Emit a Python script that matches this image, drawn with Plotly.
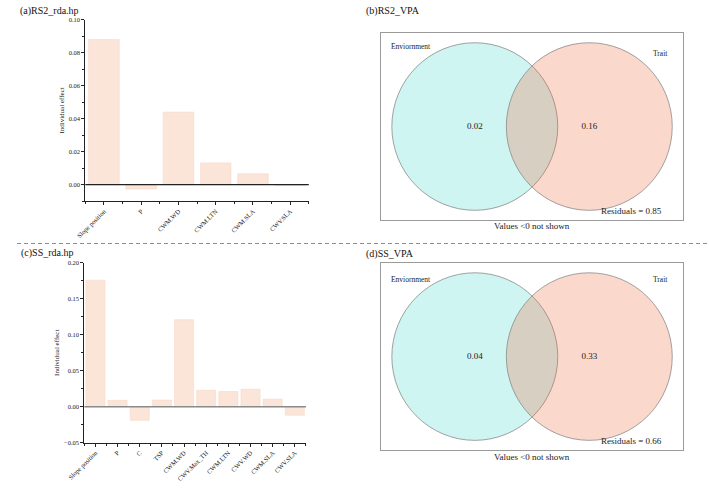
import plotly.graph_objects as go

# ---- data ----
rs2_vars = ["Slope position", "P", "CWM.WD", "CWM.LTN", "CWM.SLA", "CWV.SLA"]
rs2_effect = [0.088, -0.0027, 0.044, 0.0132, 0.0066, -0.0006]

ss_vars = ["Slope position", "P", "C", "TSP", "CWM.WD", "CWV.Max_TH",
           "CWM.LTN", "CWV.WD", "CWM.SLA", "CWV.SLA"]
ss_effect = [0.176, 0.0088, -0.019, 0.0092, 0.121, 0.0229, 0.021, 0.0243, 0.0105, -0.0118]

venn_sets = ["Enviornment", "Trait"]
rs2_vpa = [0.02, 0.16]
rs2_resid = 0.85
ss_vpa = [0.04, 0.33]
ss_resid = 0.66

W, H = 709, 488
FONT = "Liberation Serif"
BAR = "#fbe5d9"

def px_x(p):
    return p / W

def px_y(p):
    return 1 - p / H

fig = go.Figure()

# bar panels
fig.add_trace(go.Bar(x=list(range(len(rs2_vars))), y=rs2_effect, width=0.82,
                     marker=dict(color=BAR, line=dict(color="#f6d8c8", width=0.6)),
                     xaxis="x", yaxis="y", showlegend=False, hoverinfo="skip"))
fig.add_trace(go.Bar(x=list(range(len(ss_vars))), y=ss_effect, width=0.86,
                     marker=dict(color=BAR, line=dict(color="#f6d8c8", width=0.6)),
                     xaxis="x2", yaxis="y2", showlegend=False, hoverinfo="skip"))

# venn value labels as text traces
R = 1.0
D = 0.69
for vals, xa, ya in [(rs2_vpa, "x3", "y3"), (ss_vpa, "x4", "y4")]:
    fig.add_trace(go.Scatter(x=[-D, D], y=[0, 0], mode="text",
                             text=[f"{v:.2f}" for v in vals],
                             textfont=dict(family=FONT, size=9, color="#222"),
                             xaxis=xa, yaxis=ya, showlegend=False, hoverinfo="skip"))

tickfont = dict(family=FONT, size=6.5, color="#222")

def bar_x(domain, anchor, cats):
    return dict(domain=domain, anchor=anchor, range=[-0.5, len(cats) - 0.5],
                tickmode="array", tickvals=list(range(len(cats))), ticktext=cats,
                tickangle=-45, tickfont=tickfont, showline=True, linecolor="#222",
                linewidth=1, ticks="outside", ticklen=3, tickcolor="#222",
                minor=dict(ticks="outside", tick0=-0.5, dtick=1, ticklen=2, tickcolor="#222"),
                showgrid=False, zeroline=False, fixedrange=True)

def bar_y(domain, anchor, rng, dtick, minor):
    return dict(domain=domain, anchor=anchor, range=rng, dtick=dtick, tick0=0,
                tickformat=".2f", tickfont=tickfont, showline=True, linecolor="#222",
                linewidth=1, ticks="outside", ticklen=3, tickcolor="#222",
                minor=dict(ticks="outside", dtick=minor, ticklen=2, tickcolor="#222"),
                showgrid=False, zeroline=False,
                title=dict(text="Individual effect", font=dict(family=FONT, size=7, color="#222"),
                           standoff=3),
                fixedrange=True)

def venn_axis(domain, anchor, half):
    return dict(domain=domain, anchor=anchor, range=[-half, half], showline=True,
                mirror=True, linecolor="#9a9a9a", linewidth=1, showticklabels=False,
                ticks="", showgrid=False, zeroline=False, fixedrange=True)

# venn box geometry
vx0, vx1 = 372.7, 682.7
scale = 85.0  # px per unit radius
hx = (vx1 - vx0) / 2 / scale
hy = 190 / 2 / scale

fig.update_layout(
    width=W, height=H, margin=dict(l=0, r=0, t=0, b=0),
    paper_bgcolor="white", plot_bgcolor="white",
    xaxis=bar_x([px_x(70), px_x(299)], "y", rs2_vars),
    yaxis=bar_y([px_y(200), px_y(16)], "x", [-0.01, 0.10], 0.02, 0.01),
    xaxis2=bar_x([px_x(69), px_x(296)], "y2", ss_vars),
    yaxis2=bar_y([px_y(445), px_y(262.7)], "x2", [-0.05, 0.20], 0.05, 0.025),
    xaxis3=venn_axis([px_x(vx0), px_x(vx1)], "y3", hx),
    yaxis3=venn_axis([px_y(219.3), px_y(29.3)], "x3", hy),
    xaxis4=venn_axis([px_x(vx0), px_x(vx1)], "y4", hx),
    yaxis4=venn_axis([px_y(452.7), px_y(262.7)], "x4", hy),
    bargap=0.1,
)

shapes = []
# zero lines on bar panels
shapes.append(dict(type="line", xref="x domain", yref="y", x0=0, x1=1, y0=0, y1=0,
                   line=dict(color="#222", width=1.3), layer="above"))
shapes.append(dict(type="line", xref="x2 domain", yref="y2", x0=0, x1=1, y0=0, y1=0,
                   line=dict(color="#8a8a8a", width=1.5), layer="above"))
# separator
shapes.append(dict(type="line", xref="paper", yref="paper", x0=0, x1=1,
                   y0=px_y(243), y1=px_y(243),
                   line=dict(color="#8c8c8c", width=1, dash="4px,3px")))
# venn circles
for xa, ya in [("x3", "y3"), ("x4", "y4")]:
    shapes.append(dict(type="circle", xref=xa, yref=ya, x0=-D - R, x1=-D + R, y0=-R, y1=R,
                       fillcolor="#cff5f2", line=dict(color="#8a8a8a", width=0.8),
                       layer="below"))
    shapes.append(dict(type="circle", xref=xa, yref=ya, x0=D - R, x1=D + R, y0=-R, y1=R,
                       fillcolor="rgba(240,100,50,0.25)", line=dict(color="#8a8a8a", width=0.8),
                       layer="below"))
fig.update_layout(shapes=shapes)

ann = []
tf = dict(family=FONT, size=10, color="#111")
ann.append(dict(text="(a)RS2_rda.hp", xref="paper", yref="paper", x=px_x(1), y=px_y(7),
                xanchor="left", yanchor="middle", showarrow=False, font=tf))
ann.append(dict(text="(c)SS_rda.hp", xref="paper", yref="paper", x=px_x(2), y=px_y(253),
                xanchor="left", yanchor="middle", showarrow=False, font=tf))
ann.append(dict(text="(b)RS2_VPA", xref="paper", yref="paper", x=px_x(356), y=px_y(7),
                xanchor="left", yanchor="middle", showarrow=False, font=tf))
ann.append(dict(text="(d)SS_VPA", xref="paper", yref="paper", x=px_x(356), y=px_y(254),
                xanchor="left", yanchor="middle", showarrow=False, font=tf))

sf = dict(family=FONT, size=7.5, color="#222")
lf = dict(family=FONT, size=9, color="#222")
for xa, ya, resid, env_y, trait_y, note_y in [("x3", "y3", rs2_resid, 0.953, 0.866, 225.7),
                                              ("x4", "y4", ss_resid, 0.922, 0.922, 459.3)]:
    ann.append(dict(text=venn_sets[0], xref=xa, yref=ya, x=-1.73, y=env_y,
                    xanchor="left", yanchor="middle", showarrow=False, font=sf))
    ann.append(dict(text=venn_sets[1], xref=xa, yref=ya, x=1.66, y=trait_y,
                    xanchor="right", yanchor="middle", showarrow=False, font=sf))
    ann.append(dict(text=f"Residuals = {resid:.2f}", xref=xa, yref=ya, x=1.585, y=-1.008,
                    xanchor="right", yanchor="middle", showarrow=False, font=lf))
    ann.append(dict(text="Values &lt;0 not shown", xref="paper", yref="paper",
                    x=px_x((vx0 + vx1) / 2), y=px_y(note_y),
                    xanchor="center", yanchor="middle", showarrow=False, font=lf))
fig.update_layout(annotations=ann)

fig.write_html("out.html")
